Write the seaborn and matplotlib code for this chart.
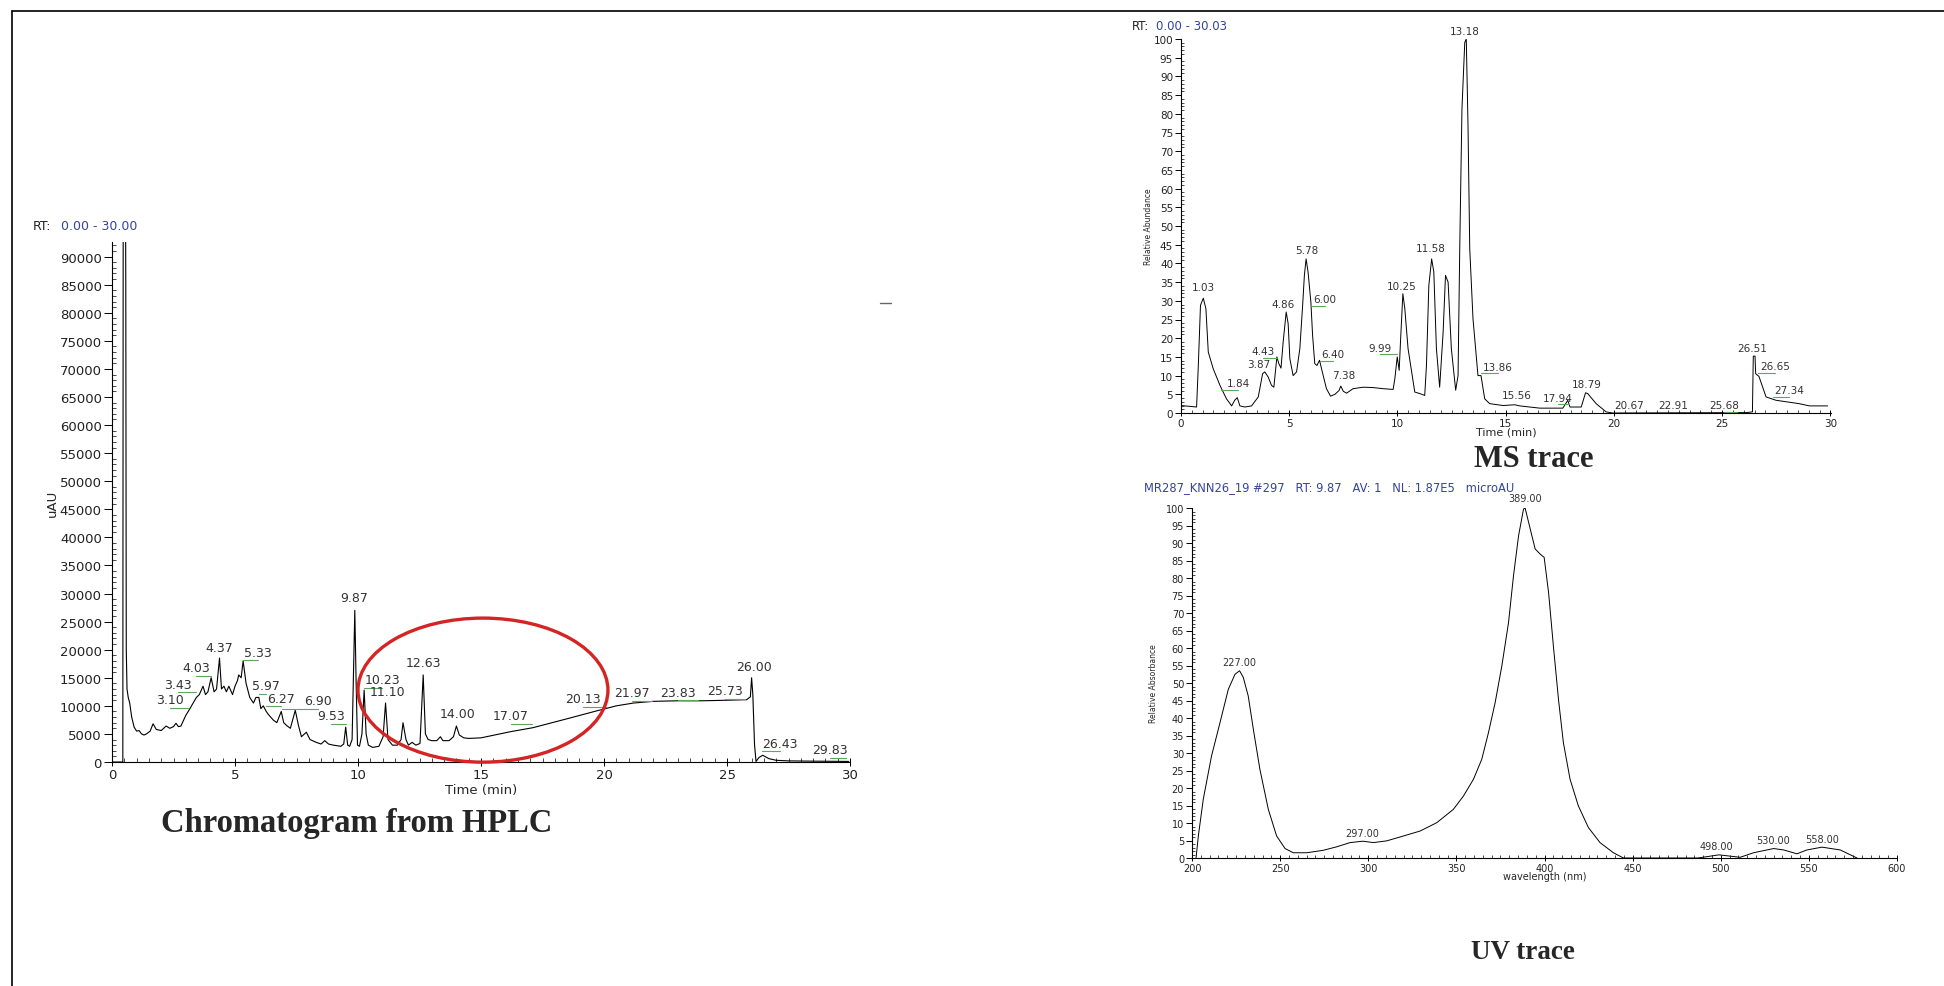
import numpy as np
import pandas as pd
import seaborn as sns
import matplotlib.pyplot as plt
from matplotlib.patches import Ellipse
from matplotlib.lines import Line2D
from matplotlib.ticker import MultipleLocator

W, H = 1944, 987

# HPLC chromatogram: retention time (min) and signal (uAU)
hplc_time = [0.00, 0.44, 0.46, 0.53, 0.56, 0.58, 0.61, 0.66, 0.72, 0.80, 0.90, 1.00, 1.10,
             1.20, 1.30, 1.40, 1.55, 1.67, 1.80, 2.00, 2.10, 2.20, 2.35, 2.50, 2.60, 2.70,
             2.80, 3.00, 3.10, 3.30, 3.43, 3.55, 3.70, 3.80, 3.90, 4.03, 4.15, 4.25, 4.37,
             4.45, 4.55, 4.65, 4.75, 4.90, 5.00, 5.10, 5.15, 5.25, 5.33, 5.45, 5.60, 5.75,
             5.85, 5.97, 6.05, 6.15, 6.27, 6.35, 6.55, 6.70, 6.88, 6.98, 7.10, 7.25, 7.45,
             7.58, 7.70, 7.90, 8.05, 8.30, 8.50, 8.65, 8.80, 9.00, 9.30, 9.42, 9.50, 9.58,
             9.66, 9.76, 9.87, 9.92, 9.98, 10.06, 10.16, 10.25, 10.33, 10.42, 10.60, 10.85,
             11.02, 11.12, 11.22, 11.40, 11.60, 11.75, 11.83, 11.95, 12.05, 12.20, 12.35,
             12.52, 12.65, 12.74, 12.85, 13.00, 13.20, 13.35, 13.45, 13.70, 13.88, 14.00,
             14.12, 14.30, 14.50, 15.00, 16.20, 17.10, 18.50, 19.70, 20.50, 21.20, 22.00,
             23.00, 24.00, 25.00, 25.80, 25.95, 26.00, 26.05, 26.12, 26.18, 26.30, 26.45,
             26.70, 27.00, 27.50, 28.50, 29.95]
hplc_signal = [0, 0, 130000, 130000, 85000, 20000, 13000, 11500, 10500, 8000, 6200, 5500,
               5600, 5000, 4800, 5000, 5500, 6800, 5800, 5600, 6000, 6400, 6000, 6300, 6900,
               6300, 6400, 8300, 9000, 10500, 11500, 12000, 13500, 12000, 12500, 15000,
               12500, 13000, 18500, 13000, 13500, 12500, 13500, 12000, 13500, 14500, 15500,
               15000, 18000, 14000, 11500, 10500, 11500, 11500, 9500, 10000, 9000, 8500,
               7500, 7000, 9000, 7000, 6500, 6000, 9200, 6500, 4500, 5300, 4000, 3500, 3200,
               3800, 3200, 3000, 2800, 3200, 6200, 3000, 2800, 4000, 27000, 15000, 3000,
               2800, 5000, 12800, 5000, 3000, 2600, 2800, 4500, 10500, 4000, 3000, 3000,
               4000, 7000, 4000, 3000, 3500, 3000, 3300, 15500, 5000, 4000, 3800, 3800, 4500,
               3800, 3800, 4500, 6400, 4800, 4300, 4200, 4300, 5400, 6100, 7700, 9100, 10000,
               10500, 10800, 10900, 10900, 11000, 11100, 11600, 15000, 12000, 3000, 100, 800,
               1200, 600, 300, 200, 150, 100]
# (label, label x, label y, leader line to the labelled time)
hplc_labels = [("3.10", 2.36, 9600, True), ("3.43", 2.68, 12400, True),
               ("4.03", 3.42, 15400, True), ("4.37", 4.36, 18900, False),
               ("5.33", 5.92, 18100, True), ("5.97", 6.26, 12100, True),
               ("6.27", 6.85, 9900, True), ("6.90", 8.38, 9500, True),
               ("9.53", 8.92, 6800, True), ("9.87", 9.84, 27800, False),
               ("10.23", 10.99, 13200, True), ("11.10", 11.18, 11100, False),
               ("12.63", 12.64, 16200, False), ("14.00", 14.04, 7200, False),
               ("17.07", 16.22, 6800, True), ("20.13", 19.16, 9800, True),
               ("21.97", 21.12, 10900, True), ("23.83", 23.02, 11000, True),
               ("25.73", 24.92, 11300, True), ("26.00", 26.10, 15500, False),
               ("26.43", 27.15, 1900, True), ("29.83", 29.19, 700, True)]
# highlighted region (center time, center signal, width, height)
highlight = (15.08, 12800, 10.16, 25650)

# MS trace: time (min) and relative abundance
ms_time = [0.00, 0.72, 0.80, 0.90, 1.03, 1.15, 1.26, 1.49, 1.80, 2.10, 2.34, 2.48, 2.60, 2.72,
           2.95, 3.26, 3.57, 3.77, 3.87, 4.03, 4.18, 4.29, 4.43, 4.52, 4.62, 4.72, 4.86, 4.95,
           5.03, 5.18, 5.34, 5.49, 5.62, 5.70, 5.78, 5.87, 6.00, 6.08, 6.18, 6.28, 6.40, 6.57,
           6.72, 6.91, 7.11, 7.30, 7.38, 7.50, 7.65, 7.95, 8.42, 8.88, 9.34, 9.80, 9.88, 9.99,
           10.08, 10.14, 10.25, 10.34, 10.49, 10.80, 11.03, 11.26, 11.34, 11.45, 11.58, 11.68,
           11.80, 11.95, 12.11, 12.22, 12.34, 12.49, 12.69, 12.80, 12.88, 12.98, 13.11, 13.18,
           13.26, 13.34, 13.49, 13.72, 13.86, 14.03, 14.26, 14.88, 15.42, 15.65, 16.57, 17.64,
           17.87, 17.97, 18.49, 18.69, 18.79, 19.18, 19.64, 19.95, 26.10, 26.40, 26.44, 26.52,
           26.55, 26.70, 27.03, 27.49, 28.56, 29.03, 29.87]
ms_abund = [2.0, 1.6, 12.7, 28.8, 30.7, 27.9, 16.3, 11.8, 7.4, 3.8, 1.9, 3.4, 4.1, 1.9, 1.6,
            1.9, 4.3, 10.5, 11.0, 9.6, 7.4, 6.9, 15.0, 13.2, 12.0, 19.0, 27.0, 23.9, 14.5,
            10.0, 11.0, 17.2, 28.8, 36.8, 41.2, 37.7, 29.7, 20.7, 13.2, 12.7, 14.1, 10.0, 6.5,
            4.5, 5.0, 6.0, 7.2, 5.8, 5.3, 6.5, 6.9, 6.8, 6.5, 6.3, 9.2, 15.0, 11.4, 19.0, 31.9,
            27.9, 17.2, 5.6, 5.2, 4.7, 12.7, 34.1, 41.2, 37.7, 17.2, 6.9, 21.6, 36.8, 35.0,
            17.2, 6.1, 10.0, 44.8, 81.3, 99.1, 100.0, 76.8, 43.9, 25.2, 10.0, 10.0, 3.8, 2.5,
            2.0, 2.2, 1.9, 1.3, 1.3, 3.4, 1.6, 1.6, 5.4, 5.2, 2.5, 0.3, 0.0, 0.1, 0.3, 15.2,
            15.2, 10.5, 9.8, 4.3, 3.4, 2.5, 1.9, 1.9]
ms_labels = [("1.03", 1.03, 32.0, False), ("1.84", 2.65, 6.2, True),
             ("3.87", 3.60, 11.2, False), ("4.43", 3.80, 14.8, True),
             ("4.86", 4.72, 27.4, False), ("5.78", 5.80, 41.7, False),
             ("6.00", 6.65, 28.6, True), ("6.40", 7.00, 13.9, True),
             ("7.38", 7.52, 8.3, False), ("9.99", 9.20, 15.7, True),
             ("10.25", 10.18, 32.3, False), ("11.58", 11.52, 42.3, False),
             ("13.18", 13.10, 100.4, False), ("13.86", 14.65, 10.6, True),
             ("15.56", 15.50, 3.1, False), ("17.94", 17.40, 2.3, True),
             ("18.79", 18.75, 6.1, False), ("20.67", 20.72, 0.4, False),
             ("22.91", 22.76, 0.4, False), ("25.68", 25.10, 0.3, True),
             ("26.51", 26.41, 15.6, False), ("26.65", 27.46, 10.8, True),
             ("27.34", 28.10, 4.3, True)]

# UV spectrum at RT 9.87: wavelength (nm) and relative absorbance
uv_wl = [202.3, 203.6, 206.4, 211.1, 215.9, 220.6, 224.4, 227.0, 229.1, 231.9, 234.8, 238.5,
         243.3, 248.0, 252.8, 257.5, 265.1, 274.5, 282.1, 289.7, 297.0, 302.9, 310.5, 320.0,
         329.4, 338.9, 348.3, 354.0, 359.7, 364.4, 368.2, 372.0, 375.8, 379.6, 382.4, 385.3,
         388.1, 389.0, 391.9, 394.7, 397.6, 399.8, 402.3, 405.2, 408.0, 410.7, 414.5, 419.2,
         424.9, 431.5, 439.1, 444.8, 470.0, 487.0, 499.0, 511.0, 518.6, 530.0, 535.7, 543.2,
         548.9, 557.4, 567.8, 577.3]
uv_abs = [0, 6.3, 16.8, 29.2, 38.7, 48.2, 52.5, 53.5, 51.6, 46.3, 36.8, 25.4, 13.9, 6.3, 2.7,
          1.5, 1.5, 2.2, 3.2, 4.4, 4.8, 4.4, 4.9, 6.3, 7.7, 10.1, 13.9, 17.7, 22.5, 28.2, 35.8,
          44.4, 54.9, 67.3, 80.6, 92.1, 99.7, 100.0, 94.0, 88.3, 86.8, 85.9, 75.9, 59.7, 45.0,
          33.0, 22.5, 14.9, 8.7, 4.4, 1.5, 0, 0, 0, 0.9, 0.2, 1.5, 2.7, 2.3, 1.2, 2.3, 3.1,
          2.3, 0]
uv_labels = [("227.00", 226.6, 54.1), ("297.00", 296.5, 5.3), ("389.00", 389.0, 100.9),
             ("498.00", 497.7, 1.5), ("530.00", 529.8, 3.2), ("558.00", 557.7, 3.6)]

BLUE = '#34449a'
GREEN = '#5aa85a'
LABEL_GREY = '#333333'

sns.set_theme(style='ticks')
plt.rcParams['font.family'] = ['DejaVu Sans']
plt.rcParams['axes.linewidth'] = 0.8


def px_axes(fig, x0, y0, x1, y1):
    # axes box given in image pixels (top-left origin)
    return fig.add_axes([x0 / W, 1 - y1 / H, (x1 - x0) / W, (y1 - y0) / H])


def style_axes(ax, size, major, minor, pad):
    sns.despine(ax=ax)
    for s in ['left', 'bottom']:
        ax.spines[s].set_color('black')
        ax.spines[s].set_linewidth(0.8)
    ax.tick_params(axis='y', which='major', direction='out', length=major, width=0.7,
                   labelsize=size, pad=pad, colors='black', labelcolor='#222222')
    ax.tick_params(axis='x', which='major', direction='inout', length=major, width=0.7,
                   labelsize=size, pad=pad, colors='black', labelcolor='#222222')
    ax.tick_params(which='minor', direction='in', length=minor, width=0.5, colors='black')
    ax.set_facecolor('white')


def peak_labels(ax, labels, size):
    for text, x, y, lead in labels:
        ax.annotate(text, xy=(x, y), xytext=(0, 1.2), textcoords='offset points',
                    ha='center', va='bottom', fontsize=size, color=LABEL_GREY,
                    annotation_clip=False)
        if lead:
            rt = float(text)
            ax.plot([min(x, rt), max(x, rt)], [y, y], color=GREEN, lw=0.8, clip_on=False)


fig = plt.figure(figsize=(W / 100, H / 100), dpi=100)
fig.patch.set_facecolor('white')

# page frame
fig.add_artist(Line2D([12 / W, 12 / W], [0, 1 - 12 / H], color='black', lw=1.2,
                      transform=fig.transFigure))
fig.add_artist(Line2D([12 / W, 1], [1 - 12 / H, 1 - 12 / H], color='black', lw=1.2,
                      transform=fig.transFigure))
fig.add_artist(Line2D([880 / W, 891 / W], [1 - 304 / H, 1 - 304 / H], color='#666666',
                      lw=1.0, transform=fig.transFigure))

# ---- HPLC chromatogram ----
ax1 = px_axes(fig, 112, 243, 850, 763)
sns.lineplot(x=hplc_time, y=hplc_signal, ax=ax1, color='black', linewidth=0.8,
             estimator=None, sort=False)
ax1.set_xlim(0, 30)
ax1.set_ylim(0, 92600)
ax1.set_xticks(np.arange(0, 31, 5))
ax1.set_yticks(np.arange(0, 90001, 5000))
ax1.xaxis.set_minor_locator(MultipleLocator(0.5))
ax1.yaxis.set_minor_locator(MultipleLocator(1000))
style_axes(ax1, 9.5, 5.5, 3, 1.8)
ax1.set_xlabel('Time (min)', fontsize=9.5, va='center')
ax1.xaxis.set_label_coords(0.5, -0.052)
ax1.set_ylabel('uAU', fontsize=9.5, va='center')
ax1.yaxis.set_label_coords(-0.081, 0.5)
peak_labels(ax1, hplc_labels, 9)
c_t, c_s, w_t, h_s = highlight
ax1.add_patch(Ellipse((c_t, c_s), w_t, h_s, fill=False, edgecolor='#d42424', lw=2.4,
                      clip_on=False, zorder=5))
fig.text(33 / W, 1 - 226 / H, 'RT:', fontsize=9, color='#222222', va='center')
fig.text(61 / W, 1 - 226 / H, '0.00 - 30.00', fontsize=9, color=BLUE, va='center')
fig.text(357 / W, 1 - 824 / H, 'Chromatogram from HPLC', fontsize=23.5, fontweight='bold',
         family='Liberation Serif', ha='center', va='center')

# ---- MS trace ----
ax2 = px_axes(fig, 1181, 40, 1831, 414)
sns.lineplot(x=ms_time, y=ms_abund, ax=ax2, color='black', linewidth=0.7,
             estimator=None, sort=False)
ax2.set_xlim(0, 30.03)
ax2.set_ylim(0, 100)
ax2.set_xticks(np.arange(0, 31, 5))
ax2.set_yticks(np.arange(0, 101, 5))
ax2.xaxis.set_minor_locator(MultipleLocator(0.5))
ax2.yaxis.set_minor_locator(MultipleLocator(1))
style_axes(ax2, 7.5, 4.5, 2, 1.2)
ax2.set_xlabel('Time (min)', fontsize=8, va='center')
ax2.xaxis.set_label_coords(0.5, -0.05)
ax2.set_ylabel('Relative Abundance', fontsize=5.5, va='center')
ax2.yaxis.set_label_coords(-0.05, 0.5)
peak_labels(ax2, ms_labels, 7.5)
fig.text(1132 / W, 1 - 27 / H, 'RT:', fontsize=8.5, color='#222222', va='center')
fig.text(1156 / W, 1 - 27 / H, '0.00 - 30.03', fontsize=8.5, color=BLUE, va='center')
fig.text(1534 / W, 1 - 460 / H, 'MS trace', fontsize=22, fontweight='bold',
         family='Liberation Serif', ha='center', va='center')

# ---- UV trace ----
ax3 = px_axes(fig, 1192, 509, 1897, 859)
sns.lineplot(x=uv_wl, y=uv_abs, ax=ax3, color='black', linewidth=0.7,
             estimator=None, sort=False)
ax3.set_xlim(200, 600)
ax3.set_ylim(0, 100)
ax3.set_xticks(np.arange(200, 601, 50))
ax3.set_yticks(np.arange(0, 101, 5))
ax3.xaxis.set_minor_locator(MultipleLocator(5))
ax3.yaxis.set_minor_locator(MultipleLocator(1))
style_axes(ax3, 7, 4.5, 2, 1.2)
ax3.set_xlabel('wavelength (nm)', fontsize=7, va='center')
ax3.xaxis.set_label_coords(0.5, -0.051)
ax3.set_ylabel('Relative Absorbance', fontsize=5.5, va='center')
ax3.yaxis.set_label_coords(-0.055, 0.5)
for text, x, y in uv_labels:
    ax3.annotate(text, xy=(x, y), xytext=(0, 1.0), textcoords='offset points',
                 ha='center', va='bottom', fontsize=7, color=LABEL_GREY,
                 annotation_clip=False)
fig.text(1329 / W, 1 - 488 / H,
         'MR287_KNN26_19 #297   RT: 9.87   AV: 1   NL: 1.87E5   microAU',
         fontsize=8.3, color=BLUE, ha='center', va='center')
fig.text(1523 / W, 1 - 953 / H, 'UV trace', fontsize=19.5, fontweight='bold',
         family='Liberation Serif', ha='center', va='center')

fig.savefig('out.png', dpi=100, facecolor='white')
